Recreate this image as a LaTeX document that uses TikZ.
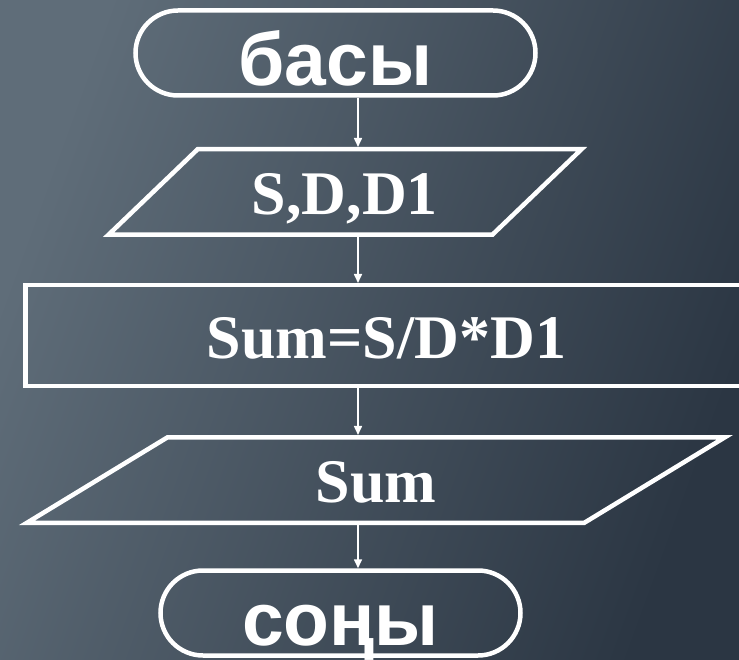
\documentclass[tikz,border=0pt]{standalone}
\usepackage{fontspec}
\usepackage{xcolor}
\usepackage{tikz}
\usetikzlibrary{shapes.geometric,shapes.misc,arrows.meta}
\setmainfont{Liberation Serif}
\newfontfamily\termfont{Liberation Sans}
\definecolor{bgL}{HTML}{5F6D79}
\definecolor{bgR}{HTML}{2B3643}

\begin{document}
\begin{tikzpicture}[x=1pt,y=1pt,
  outline/.style={draw=white, line width=4.5pt, text=white, inner sep=0pt},
  term/.style={outline, rounded rectangle, minimum height=85pt,
    font=\termfont\bfseries\fontsize{75}{75}\selectfont, text height=65pt, text depth=0pt},
  io/.style={outline, trapezium, trapezium stretches body, inner ysep=20.25pt,
    font=\bfseries\fontsize{62}{62}\selectfont, text height=45pt, text depth=0pt},
  proc/.style={outline, rectangle, minimum height=100.5pt,
    font=\bfseries\fontsize{62}{62}\selectfont, text height=45pt, text depth=0pt},
  flow/.style={draw=white, line width=1.6pt, -{Triangle[length=9pt,width=8pt]}},
  ]

% === backdrop
\useasboundingbox (0,0) rectangle (739,-660);
\shade[left color=bgL, right color=bgR, shading angle=70] (0,0) rectangle (739,-660);

% === blocks
\node[term, minimum width=400pt] (basy) at (335.5,-53) {басы};
\node[io, trapezium left angle=43.8, trapezium right angle=136.2,
  minimum width=473pt] (sdd) at (345,-192) {S,D,D1};
\node[proc, minimum width=722pt] (sum) at (386.5,-335.5) {Sum=S/D*D1};
\node[io, trapezium left angle=31.3, trapezium right angle=148.7,
  minimum width=698pt] (out) at (376,-480) {Sum};
\node[term, minimum width=360pt] (sonu) at (340.5,-613) {соңы};

% === flow lines
\coordinate (axis) at (358,0);
\draw[flow] (basy.south -| axis) -- (sdd.north -| axis);
\draw[flow] (sdd.south -| axis) -- (sum.north -| axis);
\draw[flow] (sum.south -| axis) -- (out.north -| axis);
\draw[flow] (out.south -| axis) -- (sonu.north -| axis);

\end{tikzpicture}
\end{document}
